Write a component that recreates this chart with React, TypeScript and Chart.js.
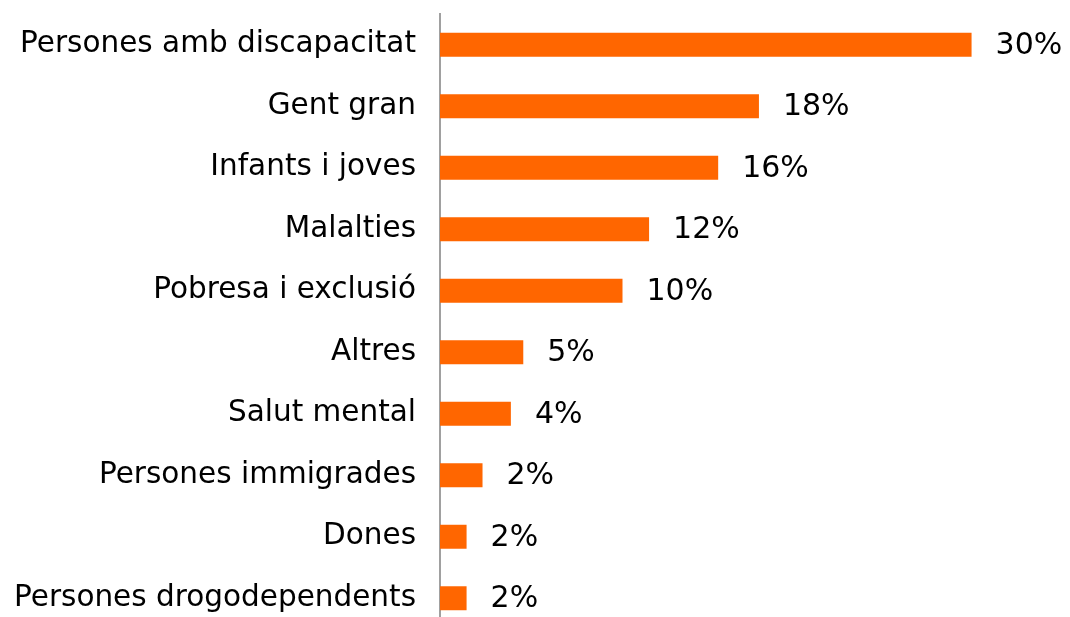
import React, { useEffect, useRef } from "react";
import { Chart, registerables } from "chart.js";

Chart.register(...registerables);

const categories = [
  "Persones amb discapacitat",
  "Gent gran",
  "Infants i joves",
  "Malalties",
  "Pobresa i exclusió",
  "Altres",
  "Salut mental",
  "Persones immigrades",
  "Dones",
  "Persones drogodependents",
];
const values = [30, 18, 15.7, 11.8, 10.3, 4.7, 4.0, 2.4, 1.5, 1.5];
const valueLabels = ["30%", "18%", "16%", "12%", "10%", "5%", "4%", "2%", "2%", "2%"];

const FONT = "'DejaVu Sans', Verdana, sans-serif";

const valueLabelPlugin = {
  id: "valueLabels",
  afterDatasetsDraw(chart: any) {
    const ctx = chart.ctx;
    const meta = chart.getDatasetMeta(0);
    ctx.save();
    ctx.font = `30px ${FONT}`;
    ctx.fillStyle = "#000";
    ctx.textAlign = "left";
    ctx.textBaseline = "middle";
    meta.data.forEach((bar: any, i: number) => {
      ctx.fillText(valueLabels[i], bar.x + 24, bar.y + 1);
    });
    ctx.restore();
  },
};

export default function App() {
  const ref = useRef<HTMLCanvasElement>(null);
  useEffect(() => {
    if (!ref.current) return;
    const chart = new Chart(ref.current, {
      type: "bar",
      data: {
        labels: categories,
        datasets: [
          {
            data: values,
            backgroundColor: "#FF6600",
            borderWidth: 0,
            categoryPercentage: 1,
            barPercentage: 0.39,
          },
        ],
      },
      options: {
        indexAxis: "y",
        animation: false,
        responsive: false,
        maintainAspectRatio: false,
        layout: { padding: { top: 14, right: 63, bottom: 0, left: 0 } },
        plugins: {
          legend: { display: false },
          tooltip: { enabled: false },
        },
        scales: {
          x: {
            display: false,
            min: 0,
            max: 32,
          },
          y: {
            grid: { display: false, drawTicks: false },
            border: { display: true, color: "#a0a0a0", width: 2 },
            ticks: {
              color: "#000",
              padding: 24,
              font: { family: FONT, size: 29.5 },
            },
            afterFit(scale: any) {
              scale.width = 440;
              scale.paddingTop = 0;
              scale.paddingBottom = 0;
            },
          },
        },
      },
      plugins: [valueLabelPlugin],
    });
    return () => chart.destroy();
  }, []);
  return (
    <div
      style={{
        position: "fixed",
        left: 0,
        top: 0,
        width: 1070,
        height: 617,
        overflow: "hidden",
        background: "#fff",
      }}
    >
      <canvas ref={ref} width={1070} height={629} style={{ display: "block" }} />
    </div>
  );
}
